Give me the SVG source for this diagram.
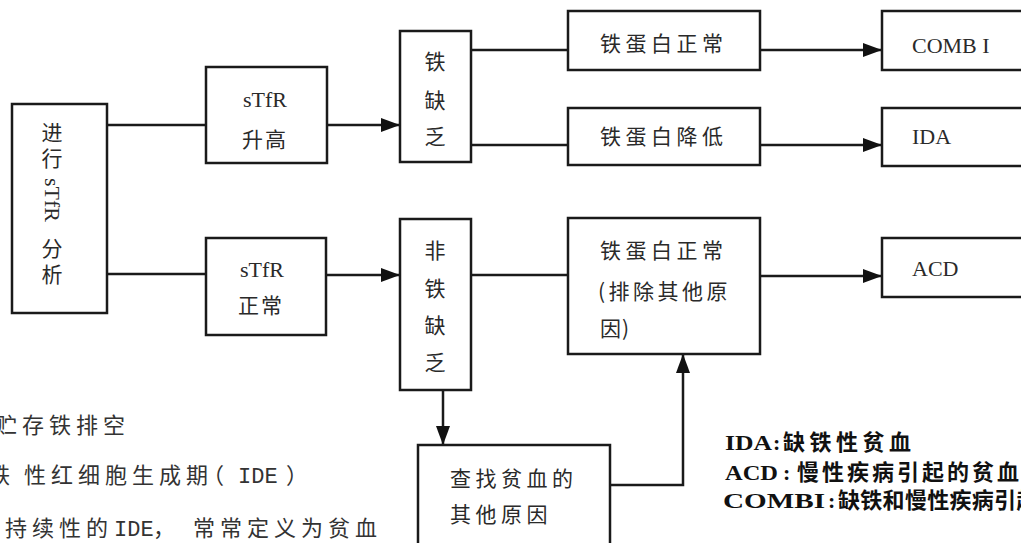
<svg xmlns="http://www.w3.org/2000/svg" width="1021" height="543" viewBox="0 0 1021 543">
<defs>
<marker id="ah" markerUnits="userSpaceOnUse" markerWidth="20" markerHeight="16" refX="19" refY="7" orient="auto">
<path d="M0,0 L19,7 L0,14 Z" fill="#111"/>
</marker>
<style>
.box{fill:#fff;stroke:#1a1a1a;stroke-width:2.5}
.ln{fill:none;stroke:#1a1a1a;stroke-width:2.5}
.arr{fill:none;stroke:#1a1a1a;stroke-width:2.5;marker-end:url(#ah)}
.cj{font-family:"Noto Sans CJK SC","Noto Sans CJK JP",sans-serif;font-size:21px;fill:#2a2a2a;letter-spacing:4.5px}
.lt{font-family:"Liberation Serif","Noto Sans CJK SC",serif;font-size:22px;fill:#2a2a2a}
.mid{text-anchor:middle}
.note{font-family:"Noto Sans CJK SC",sans-serif;font-size:22px;fill:#333;letter-spacing:5px}
.mono{font-family:"Liberation Mono",monospace;font-size:22px;fill:#333}
.lgl{font-family:"Liberation Serif",serif;font-weight:bold;font-size:22px;fill:#111}
.lgc{font-family:"Noto Sans CJK SC",sans-serif;font-weight:bold;font-size:22px;fill:#111}
</style>
</defs>
<rect width="1021" height="543" fill="#fff"/>

<g id="connectors">
<path class="ln" d="M107,125 H206"/>
<path class="ln" d="M107,274 H206"/>
<path class="arr" d="M327,125 H400"/>
<path class="arr" d="M326,275 H400"/>
<path class="ln" d="M471,50 H568"/>
<path class="ln" d="M471,145 H568"/>
<path class="arr" d="M760,50 H882"/>
<path class="arr" d="M760,145 H882"/>
<path class="ln" d="M471,275 H568"/>
<path class="arr" d="M760,276 H882"/>
<path class="arr" d="M443,390 V445"/>
<path class="arr" d="M610,485 H683 V354"/>
</g>

<g id="n-start">
<rect class="box" x="12" y="104" width="95" height="209"/>
<text class="cj" writing-mode="vertical-rl" x="52" y="122" style="letter-spacing:5px">进行<tspan y="178" style="font-family:'Liberation Serif',serif;font-size:22px;letter-spacing:0">sTfR</tspan><tspan y="238">分析</tspan></text>
</g>

<g id="n-high">
<rect class="box" x="206" y="67" width="121" height="96"/>
<text class="lt mid" x="265" y="107">sTfR</text>
<text class="cj mid" x="265" y="147" style="letter-spacing:2px">升高</text>
</g>

<g id="n-normal">
<rect class="box" x="206" y="238" width="120" height="97"/>
<text class="lt mid" x="262" y="277">sTfR</text>
<text class="cj mid" x="261" y="313" style="letter-spacing:2px">正常</text>
</g>

<g id="n-def">
<rect class="box" x="400" y="31" width="71" height="131"/>
<text class="cj mid" x="435" y="69" style="letter-spacing:0">铁</text>
<text class="cj mid" x="435" y="108" style="letter-spacing:0">缺</text>
<text class="cj mid" x="435" y="144" style="letter-spacing:0">乏</text>
</g>

<g id="n-nondef">
<rect class="box" x="400" y="219" width="71" height="171"/>
<text class="cj mid" x="435" y="258" style="letter-spacing:0">非</text>
<text class="cj mid" x="435" y="296" style="letter-spacing:0">铁</text>
<text class="cj mid" x="435" y="333" style="letter-spacing:0">缺</text>
<text class="cj mid" x="435" y="370" style="letter-spacing:0">乏</text>
</g>

<g id="n-fer-normal">
<rect class="box" x="568" y="11" width="192" height="59"/>
<text class="cj" x="600" y="51">铁蛋白正常</text>
</g>

<g id="n-fer-low">
<rect class="box" x="568" y="108" width="192" height="57"/>
<text class="cj" x="600" y="144">铁蛋白降低</text>
</g>

<g id="n-fer-normal2">
<rect class="box" x="568" y="218" width="192" height="136"/>
<text class="cj" x="600" y="258">铁蛋白正常</text>
<text class="cj" x="598" y="299" style="letter-spacing:3.5px">(排除其他原</text>
<text class="cj" x="600" y="336" style="letter-spacing:1px">因)</text>
</g>

<g id="n-combi">
<rect class="box" x="882" y="11" width="150" height="59"/>
<text class="lt" x="912" y="53">COMB I</text>
</g>

<g id="n-ida">
<rect class="box" x="882" y="108" width="150" height="58"/>
<text class="lt" x="912" y="144">IDA</text>
</g>

<g id="n-acd">
<rect class="box" x="882" y="238" width="150" height="59"/>
<text class="lt" x="912" y="276">ACD</text>
</g>

<g id="n-other">
<rect class="box" x="418" y="445" width="192" height="120"/>
<text class="cj" x="450" y="486">查找贫血的</text>
<text class="cj" x="450" y="522">其他原因</text>
</g>

<g id="notes">
<text class="note" x="-5" y="433">贮存铁排空</text>
<text class="note" x="-12" y="483">铁</text>
<text class="note" x="24" y="483">性红细胞生成期</text>
<text class="note" x="202" y="483" style="letter-spacing:0">（</text>
<text class="mono" x="238" y="483">IDE</text>
<text class="note" x="286" y="483" style="letter-spacing:0">）</text>
<text class="note" x="5" y="536">持续性的</text>
<text class="mono" x="114" y="536">IDE</text>
<text class="note" x="153" y="536" style="letter-spacing:0">，</text>
<text class="note" x="193" y="536">常常定义为贫血</text>
</g>

<g id="legend">
<text class="lgl" x="725" y="450" textLength="47" lengthAdjust="spacingAndGlyphs">IDA</text>
<text class="lgl" x="773" y="450">:</text>
<text class="lgc" x="783" y="450" style="letter-spacing:4.5px">缺铁性贫血</text>
<text class="lgl" x="725" y="480" textLength="53" lengthAdjust="spacingAndGlyphs">ACD</text>
<text class="lgl" x="783" y="480">:</text>
<text class="lgc" x="797" y="480" style="letter-spacing:3px">慢性疾病引起的贫血</text>
<text class="lgl" x="723" y="508" textLength="102" lengthAdjust="spacingAndGlyphs">COMBI</text>
<text class="lgl" x="828" y="508">:</text>
<text class="lgc" x="838" y="508" style="letter-spacing:0.3px">缺铁和慢性疾病引起</text>
</g>
</svg>
